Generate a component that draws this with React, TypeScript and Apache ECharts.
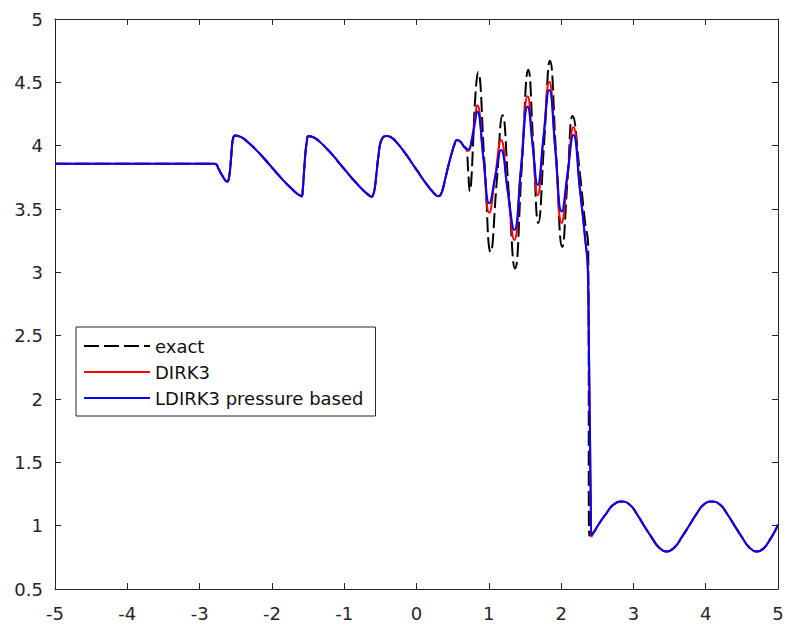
import React, { useEffect, useRef } from "react";
import * as echarts from "echarts";

// x range and ticks
const xTicks = [-5, -4, -3, -2, -1, 0, 1, 2, 3, 4, 5];
const yTicks = [0.5, 1, 1.5, 2, 2.5, 3, 3.5, 4, 4.5, 5];

const seriesNames = ["exact", "DIRK3", "LDIRK3 pressure based"];

// Smooth region shared by all three curves (x < 0.7)
const smoothRegion: [number, number][] = [
  [-5, 3.857], [-2.79, 3.857], [-2.74, 3.82], [-2.694, 3.77], [-2.617, 3.716],
  [-2.59, 3.76], [-2.565, 3.9], [-2.548, 4.02], [-2.53, 4.07], [-2.51, 4.08],
  [-2.418, 4.065], [-2.326, 4.025], [-2.234, 3.975], [-2.141, 3.92], [-2.049, 3.86],
  [-1.957, 3.8], [-1.865, 3.74], [-1.772, 3.685], [-1.68, 3.635], [-1.616, 3.607],
  [-1.588, 3.6], [-1.572, 3.66], [-1.555, 3.8], [-1.535, 3.95], [-1.515, 4.04],
  [-1.497, 4.077], [-1.409, 4.062], [-1.322, 4.022], [-1.234, 3.972], [-1.146, 3.917],
  [-1.059, 3.857], [-0.971, 3.797], [-0.883, 3.737], [-0.795, 3.682], [-0.708, 3.632],
  [-0.647, 3.604], [-0.62, 3.597], [-0.595, 3.62], [-0.574, 3.676], [-0.55, 3.8],
  [-0.528, 3.913], [-0.495, 4.03], [-0.455, 4.07], [-0.412, 4.077], [-0.341, 4.062],
  [-0.269, 4.022], [-0.198, 3.972], [-0.127, 3.917], [-0.056, 3.857], [0.016, 3.797],
  [0.087, 3.737], [0.158, 3.682], [0.23, 3.632], [0.28, 3.604], [0.301, 3.6],
  [0.33, 3.61], [0.36, 3.65], [0.394, 3.73], [0.44, 3.84], [0.487, 3.94],
  [0.525, 4.01], [0.56, 4.045], [0.61, 4.03], [0.66, 3.99],
];

// High-frequency region up to the shock, per curve
const exactOsc: [number, number][] = [
  [0.69, 3.98], [0.715, 3.8], [0.738, 3.64], [0.755, 3.7], [0.785, 4.05],
  [0.815, 4.4], [0.85, 4.58], [0.94, 3.87], [1.026, 3.16], [1.108, 3.7],
  [1.19, 4.24], [1.276, 3.63], [1.362, 3.03], [1.455, 3.82], [1.547, 4.6],
  [1.616, 4.0], [1.685, 3.39], [1.766, 4.03], [1.846, 4.67], [1.931, 3.93],
  [2.016, 3.2], [2.088, 3.72], [2.16, 4.235], [2.26, 3.78], [2.33, 3.4],
  [2.375, 3.21], [2.39, 0.92],
];
const dirkOsc: [number, number][] = [
  [0.716, 3.96], [0.76, 4.04], [0.8, 4.18], [0.84, 4.32], [0.925, 3.9],
  [1.007, 3.47], [1.088, 3.76], [1.169, 4.045], [1.26, 3.65], [1.353, 3.256],
  [1.445, 3.82], [1.538, 4.39], [1.607, 4.0], [1.676, 3.61], [1.756, 4.06],
  [1.836, 4.505], [1.922, 3.95], [2.008, 3.39], [2.089, 3.77], [2.17, 4.145],
  [2.26, 3.67], [2.33, 3.28], [2.37, 3.02], [2.385, 2.4], [2.4, 1.7],
  [2.41, 1.2], [2.42, 0.914],
];
const ldirkOsc: [number, number][] = [
  [0.716, 3.97], [0.76, 4.03], [0.8, 4.15], [0.84, 4.27], [0.925, 3.91],
  [1.007, 3.545], [1.088, 3.75], [1.169, 3.966], [1.26, 3.65], [1.353, 3.335],
  [1.445, 3.82], [1.538, 4.31], [1.607, 4.0], [1.676, 3.69], [1.756, 4.065],
  [1.836, 4.44], [1.922, 3.96], [2.008, 3.48], [2.089, 3.78], [2.17, 4.085],
  [2.26, 3.65], [2.33, 3.28], [2.37, 3.02], [2.385, 2.4], [2.4, 1.7],
  [2.41, 1.2], [2.42, 0.927],
];

// Post-shock region shared by all three curves
const postShock: [number, number][] = [
  [2.46, 0.955], [2.538, 1.027], [2.63, 1.1], [2.72, 1.164], [2.838, 1.19],
  [2.95, 1.165], [3.05, 1.09], [3.147, 1.0], [3.25, 0.91], [3.35, 0.83],
  [3.46, 0.796], [3.57, 0.83], [3.67, 0.91], [3.77, 1.0], [3.87, 1.09],
  [3.97, 1.165], [4.083, 1.19], [4.2, 1.165], [4.3, 1.09], [4.4, 1.0],
  [4.5, 0.91], [4.6, 0.83], [4.705, 0.796], [4.8, 0.82], [4.9, 0.9],
  [4.96, 0.96], [5, 1.01],
];

const FONT = "DejaVu Sans";
const AXIS_COLOR = "#262626";

export default function App() {
  const ref = useRef<HTMLDivElement>(null);

  useEffect(() => {
    document.body.style.margin = "0";
    const chart = echarts.init(ref.current as HTMLDivElement, null, { renderer: "svg" });

    const axisCommon = {
      type: "value" as const,
      axisLine: { show: true, onZero: false, lineStyle: { color: AXIS_COLOR, width: 1 } },
      axisTick: { show: true, inside: true, length: 6, lineStyle: { color: AXIS_COLOR, width: 1 } },
      splitLine: { show: false },
    };

    const exactData = [...smoothRegion, ...exactOsc, ...postShock];
    const dirkData = [...smoothRegion, ...dirkOsc, ...postShock];
    const ldirkData = [...smoothRegion, ...ldirkOsc, ...postShock];

    const lineCommon = {
      type: "line" as const,
      showSymbol: false,
      symbol: "none",
      smooth: 0.5,
      xAxisIndex: 0,
      yAxisIndex: 0,
    };

    chart.setOption({
      animation: false,
      backgroundColor: "#ffffff",
      textStyle: { fontFamily: FONT },
      grid: { left: 55, top: 19, right: 10, bottom: 37, containLabel: false },
      xAxis: [
        {
          ...axisCommon,
          position: "bottom",
          min: xTicks[0],
          max: xTicks[xTicks.length - 1],
          interval: 1,
          axisLabel: { color: AXIS_COLOR, fontSize: 18, margin: 15, fontFamily: FONT },
        },
        {
          ...axisCommon,
          position: "top",
          min: xTicks[0],
          max: xTicks[xTicks.length - 1],
          interval: 1,
          axisLabel: { show: false },
        },
      ],
      yAxis: [
        {
          ...axisCommon,
          position: "left",
          min: yTicks[0],
          max: yTicks[yTicks.length - 1],
          interval: 0.5,
          axisLabel: { color: AXIS_COLOR, fontSize: 18, margin: 12, fontFamily: FONT },
        },
        {
          ...axisCommon,
          position: "right",
          min: yTicks[0],
          max: yTicks[yTicks.length - 1],
          interval: 0.5,
          axisLabel: { show: false },
        },
      ],
      legend: {
        orient: "vertical",
        left: 76,
        top: 327,
        itemWidth: 66,
        itemHeight: 14,
        itemGap: 6,
        padding: [9, 12, 8, 7],
        borderColor: AXIS_COLOR,
        borderWidth: 1,
        backgroundColor: "#ffffff",
        selectedMode: false,
        itemStyle: { color: "rgba(0,0,0,0)", borderColor: "rgba(0,0,0,0)", borderWidth: 0, opacity: 0 },
        textStyle: { fontSize: 18, color: "#111111", fontFamily: FONT, lineHeight: 20 },
        data: seriesNames,
      },
      series: [
        {
          ...lineCommon,
          name: seriesNames[0],
          data: exactData,
          lineStyle: { color: "#000000", width: 2, type: [15, 5] },
          itemStyle: { color: "#000000" },
          z: 2,
        },
        {
          ...lineCommon,
          name: seriesNames[1],
          data: dirkData,
          lineStyle: { color: "#ff0000", width: 2 },
          itemStyle: { color: "#ff0000" },
          z: 3,
        },
        {
          ...lineCommon,
          name: seriesNames[2],
          data: ldirkData,
          lineStyle: { color: "#0000ff", width: 2 },
          itemStyle: { color: "#0000ff" },
          z: 4,
        },
      ],
    });

    return () => chart.dispose();
  }, []);

  return <div ref={ref} style={{ width: 788, height: 626 }} />;
}
